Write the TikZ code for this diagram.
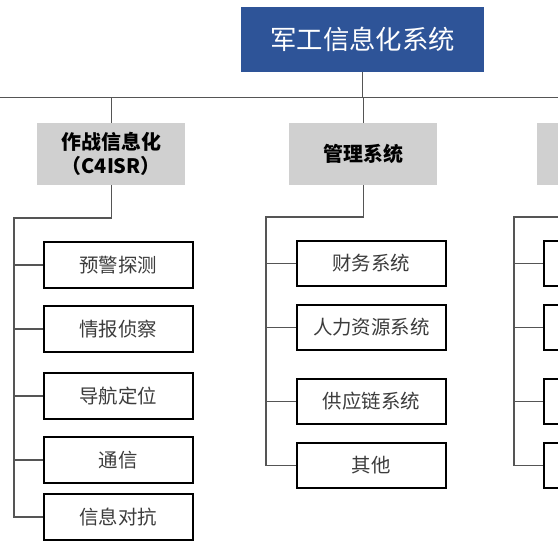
\documentclass[tikz,border=0pt]{standalone}
\usepackage{fontspec}
\newfontfamily\cjk{Noto Sans CJK SC}
\definecolor{topblue}{RGB}{46,84,152}
\definecolor{catgray}{RGB}{208,208,208}
\definecolor{linegray}{RGB}{85,85,85}
\definecolor{txtgray}{RGB}{60,60,60}
\begin{document}
\begin{tikzpicture}[x=1bp,y=-1bp,
  topbox/.style={fill=topblue,draw=none,anchor=north west,minimum width=243bp,minimum height=65bp,inner sep=0pt,text=white,font=\cjk\fontsize{26.5}{30}\selectfont},
  catbox/.style={fill=catgray,draw=none,anchor=north west,minimum width=148bp,minimum height=62bp,inner sep=0pt,text=black,font=\cjk\bfseries\fontsize{20}{24}\selectfont,align=center},
  leafbox/.style={draw=black,line width=1.8bp,fill=white,anchor=north west,minimum width=149bp,minimum height=46bp,inner sep=0pt,text=txtgray,font=\cjk\fontsize{19.5}{22}\selectfont},
  conn/.style={draw=linegray,line width=1.2bp}]
\useasboundingbox (0,0) rectangle (558,558);
\clip (0,0) rectangle (558,558);
\fill[white] (0,0) rectangle (558,558);
% top
\node[topbox] (top) at (241,7) {军工信息化系统};
\coordinate (hl) at (0,97.5);
\coordinate (hr) at (558,97.5);
\draw[conn] (hl) -- (hr);
% categories
\node[catbox] (c1) at (37,123) {作战信息化\\（C4ISR）};
\node[catbox] (c2) at (289,123) {管理系统};
\node[catbox] (c3) at (537,123) {};
\draw[conn] (top.south) -- (top.south |- hl);
\draw[conn] (c1.north) -- (c1.north |- hl);
\draw[conn] (c2.north) -- (c2.north |- hl);
\draw[conn] (c3.north) -- (c3.north |- hl);
% left column
\node[leafbox] (l1) at (43,241) {预警探测};
\node[leafbox] (l2) at (43,305) {情报侦察};
\node[leafbox] (l3) at (43,372) {导航定位};
\node[leafbox] (l4) at (43,436) {通信};
\node[leafbox] (l5) at (43,493) {信息对抗};
\coordinate (j1) at (14,218);
\draw[conn] (c1.south) |- (j1) -- (j1 |- l5.west) -- (l5.west);
\foreach \n in {l1,l2,l3,l4}{\draw[conn] (\n.west -| j1) -- (\n.west);}
% middle column
\node[leafbox,minimum height=45bp] (m1) at (296,240) {财务系统};
\node[leafbox,minimum height=45bp] (m2) at (296,304) {人力资源系统};
\node[leafbox,minimum height=45bp] (m3) at (296,378) {供应链系统};
\node[leafbox,minimum height=45bp] (m4) at (296,442) {其他};
\coordinate (j2) at (266,217);
\draw[conn] (c2.south) |- (j2) -- (j2 |- m4.west) -- (m4.west);
\foreach \n in {m1,m2,m3}{\draw[conn] (\n.west -| j2) -- (\n.west);}
% right column (cut off)
\node[leafbox,minimum height=45bp] (r1) at (543,240) {};
\node[leafbox,minimum height=45bp] (r2) at (543,304) {};
\node[leafbox,minimum height=45bp] (r3) at (543,378) {};
\node[leafbox,minimum height=45bp] (r4) at (543,442) {};
\coordinate (j3) at (514,217);
\draw[conn] (c3.south) |- (j3) -- (j3 |- r4.west) -- (r4.west);
\foreach \n in {r1,r2,r3}{\draw[conn] (\n.west -| j3) -- (\n.west);}
\end{tikzpicture}
\end{document}
